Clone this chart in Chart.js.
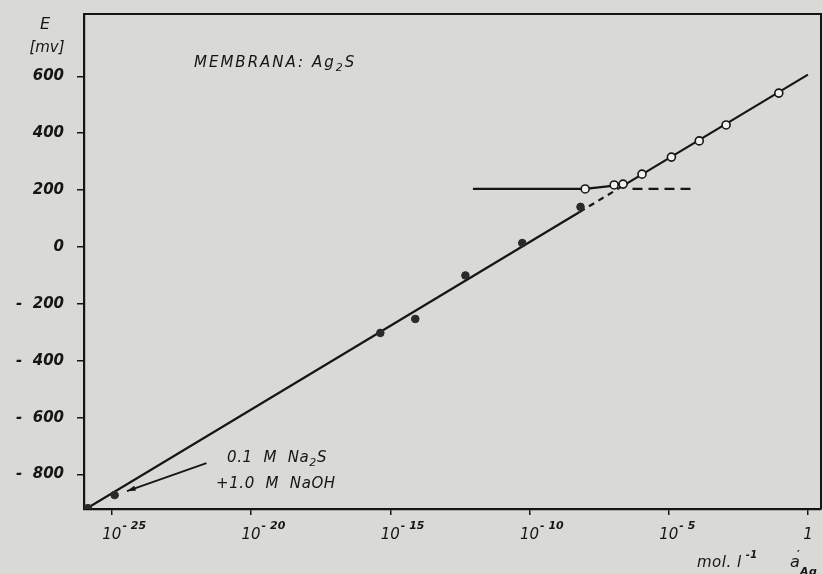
<!DOCTYPE html>
<html>
<head>
<meta charset="utf-8">
<script src="https://cdn.jsdelivr.net/npm/chart.js@4.4.1/dist/chart.umd.min.js"></script>
<style>
  html, body { margin: 0; padding: 0; background: #d9d9d5; }
  #wrap { width: 823px; height: 574px; }
</style>
</head>
<body>
<div id="wrap"><canvas id="grafico" width="823" height="574"></canvas></div>
<script>
// DADOS
const xMin = 1.17e-26;
const xMax = 2.95;
const yMin = -921;
const yMax = 819;

const xTickValues = [1e-25, 1e-20, 1e-15, 1e-10, 1e-5, 1];
const xTickLabels = ['10^-25', '10^-20', '10^-15', '10^-10', '10^-5', '1'];
const yTickValues = [-800, -600, -400, -200, 0, 200, 400, 600];

// pontos cheios
const cheiosX = [1.38e-26, 1.26e-25, 4.4e-16, 7.9e-15, 5e-13, 5.5e-11, 6.8e-9];
const cheiosE = [-918, -872, -302, -253, -100, 14, 141];

// pontos abertos
const abertosX = [1e-8, 1.1e-7, 2.3e-7, 1.1e-6, 1.25e-5, 1.25e-4, 1.15e-3, 9e-2];
const abertosE = [204, 218, 221, 256, 316, 373, 429, 541];

// reta principal (o trecho entre o 2o e 3o ponto é tracejado)
const retaX = [1.17e-26, 6.3e-9, 1.6e-7, 1];
const retaE = [-921, 123, 206, 606];

// patamar horizontal
const patamarX = [9.3e-13, 1e-8, 1.1e-7, 2.3e-7];
const patamarE = [204, 204, 216, 221];

const patamarTracejadoX = [5e-7, 7.1e-5];
const patamarTracejadoE = [204, 204];

// seta da anotação
const setaX = [2.5e-22, 3.5e-25];
const setaE = [-760, -858];

const COR = '#151515';
const FONTE = 'DejaVu Sans';

function pares(xs, ys) { return xs.map((x, i) => ({ x: x, y: ys[i] })); }

// escreve texto com partes sub/sobrescritas: [[texto, dy, fonte], ...]
function texto(ctx, partes, x, y) {
    partes.forEach(p => {
        ctx.font = p[2];
        ctx.fillText(p[0], x, y + p[1]);
        x += ctx.measureText(p[0]).width;
    });
}

// PLUGIN: moldura, textos, rótulos do eixo x, ponta da seta
const extras = {
    id: 'extras',
    afterDraw(chart) {
        const ctx = chart.ctx;
        const area = chart.chartArea;
        const sx = chart.scales.x, sy = chart.scales.y;
        ctx.save();
        ctx.strokeStyle = COR;
        ctx.fillStyle = COR;

        // moldura superior e direita
        ctx.lineWidth = 2;
        ctx.beginPath();
        ctx.moveTo(area.left, area.top);
        ctx.lineTo(area.right, area.top);
        ctx.lineTo(area.right, area.bottom);
        ctx.stroke();

        const normal = 'italic 15px ' + FONTE;
        const pequeno = 'italic bold 11px ' + FONTE;

        // rótulos do eixo x (10 com expoente)
        ctx.textBaseline = 'alphabetic';
        xTickLabels.forEach((lab, i) => {
            const px = sx.getPixelForValue(xTickValues[i]);
            const partes = lab.split('^');
            ctx.font = normal;
            ctx.textAlign = 'center';
            ctx.fillText(partes[0], px, 539);
            if (partes[1]) {
                const w = ctx.measureText(partes[0]).width;
                ctx.font = pequeno;
                ctx.textAlign = 'left';
                ctx.fillText(partes[1].replace('-', '- '), px + w / 2 + 1, 529);
            }
        });

        // E [mv]
        ctx.font = 'italic 16px ' + FONTE;
        ctx.textAlign = 'center';
        ctx.fillText('E', 45, 29);
        ctx.font = normal;
        ctx.fillText('[mv]', 47, 52);

        ctx.textAlign = 'left';
        ctx.letterSpacing = '2px';
        const anot = 'italic 15px ' + FONTE;
        const sub = 'italic 11px ' + FONTE;

        // MEMBRANA: Ag2S
        texto(ctx, [['MEMBRANA: Ag', 0, anot], ['2', 4, sub], ['S', 0, anot]], 194, 67);

        // 0.1 M Na2S / +1.0 M NaOH
        ctx.letterSpacing = '0.6px';
        texto(ctx, [['0.1  M  Na', 0, anot], ['2', 4, sub], ['S', 0, anot]], 227, 462);
        texto(ctx, [['+1.0  M  NaOH', 0, anot]], 216, 488);

        // mol. l-1   a'Ag
        ctx.letterSpacing = '0.5px';
        texto(ctx, [['mol. l', 0, anot], [' -1', -9, 'italic bold 10px ' + FONTE]], 697, 567);
        texto(ctx, [['a', 0, 'italic 16px ' + FONTE]], 790, 567);
        texto(ctx, [['\u2032', 0, 'bold 11px ' + FONTE]], 797, 558);
        texto(ctx, [['Ag', 0, 'italic bold 11px ' + FONTE]], 800, 575);
        ctx.letterSpacing = '0px';

        // ponta da seta
        const ax = sx.getPixelForValue(setaX[1]), ay = sy.getPixelForValue(setaE[1]);
        const bx = sx.getPixelForValue(setaX[0]), by = sy.getPixelForValue(setaE[0]);
        const ang = Math.atan2(ay - by, ax - bx);
        ctx.beginPath();
        ctx.moveTo(ax, ay);
        ctx.lineTo(ax - 9 * Math.cos(ang - 0.3), ay - 9 * Math.sin(ang - 0.3));
        ctx.lineTo(ax - 9 * Math.cos(ang + 0.3), ay - 9 * Math.sin(ang + 0.3));
        ctx.closePath();
        ctx.fill();
        ctx.restore();
    }
};

const fundo = {
    id: 'fundo',
    beforeDraw(chart) {
        const ctx = chart.ctx;
        ctx.save();
        ctx.fillStyle = '#d9d9d5';
        ctx.fillRect(0, 0, chart.width, chart.height);
        ctx.restore();
    }
};

const linha = (data, extra) => Object.assign({
    data: data,
    showLine: true,
    borderColor: COR,
    borderWidth: 2.2,
    pointRadius: 0,
    fill: false
}, extra || {});

new Chart(document.getElementById('grafico'), {
    type: 'scatter',
    data: {
        datasets: [
            {
                label: 'abertos',
                data: pares(abertosX, abertosE),
                pointRadius: 4,
                pointBorderWidth: 1.6,
                pointBackgroundColor: '#f2f2ee',
                pointBorderColor: COR
            },
            {
                label: 'cheios',
                data: pares(cheiosX, cheiosE),
                pointRadius: 3.8,
                pointBorderWidth: 1,
                pointBackgroundColor: '#2a2a2a',
                pointBorderColor: '#2a2a2a'
            },
            linha(pares(retaX, retaE), {
                label: 'reta',
                segment: { borderDash: c => c.p0DataIndex === 1 ? [6, 5] : undefined }
            }),
            linha(pares(patamarX, patamarE), { label: 'patamar' }),
            linha(pares(patamarTracejadoX, patamarTracejadoE), { label: 'patamar2', borderDash: [10, 6] }),
            linha(pares(setaX, setaE), { label: 'seta', borderWidth: 1.8 })
        ]
    },
    options: {
        responsive: false,
        animation: false,
        layout: { autoPadding: false, padding: { top: 14, right: 2, left: 0, bottom: 0 } },
        plugins: { legend: { display: false }, tooltip: { enabled: false } },
        scales: {
            x: {
                type: 'logarithmic',
                min: xMin,
                max: xMax,
                afterBuildTicks: s => { s.ticks = xTickValues.map(v => ({ value: v })); },
                afterFit: s => { s.height = 65; s.paddingLeft = 0; s.paddingRight = 0; },
                ticks: { callback: () => '', maxRotation: 0, autoSkip: false },
                grid: { drawOnChartArea: false, drawTicks: true, tickLength: 6, color: COR, lineWidth: 1.5 },
                border: { display: true, color: COR, width: 2.2 }
            },
            y: {
                type: 'linear',
                min: yMin,
                max: yMax,
                afterBuildTicks: s => { s.ticks = yTickValues.map(v => ({ value: v })); },
                afterFit: s => { s.width = 84; s.paddingTop = 0; s.paddingBottom = 0; },
                ticks: {
                    callback: v => v < 0 ? '-  ' + (-v) : String(v),
                    color: COR,
                    padding: 13,
                    font: { family: FONTE, size: 15, style: 'italic', weight: 'bold' }
                },
                grid: { drawOnChartArea: false, drawTicks: true, tickLength: 7, color: COR, lineWidth: 1.5 },
                border: { display: true, color: COR, width: 2.2 }
            }
        }
    },
    plugins: [fundo, extras]
});
</script>
</body>
</html>
